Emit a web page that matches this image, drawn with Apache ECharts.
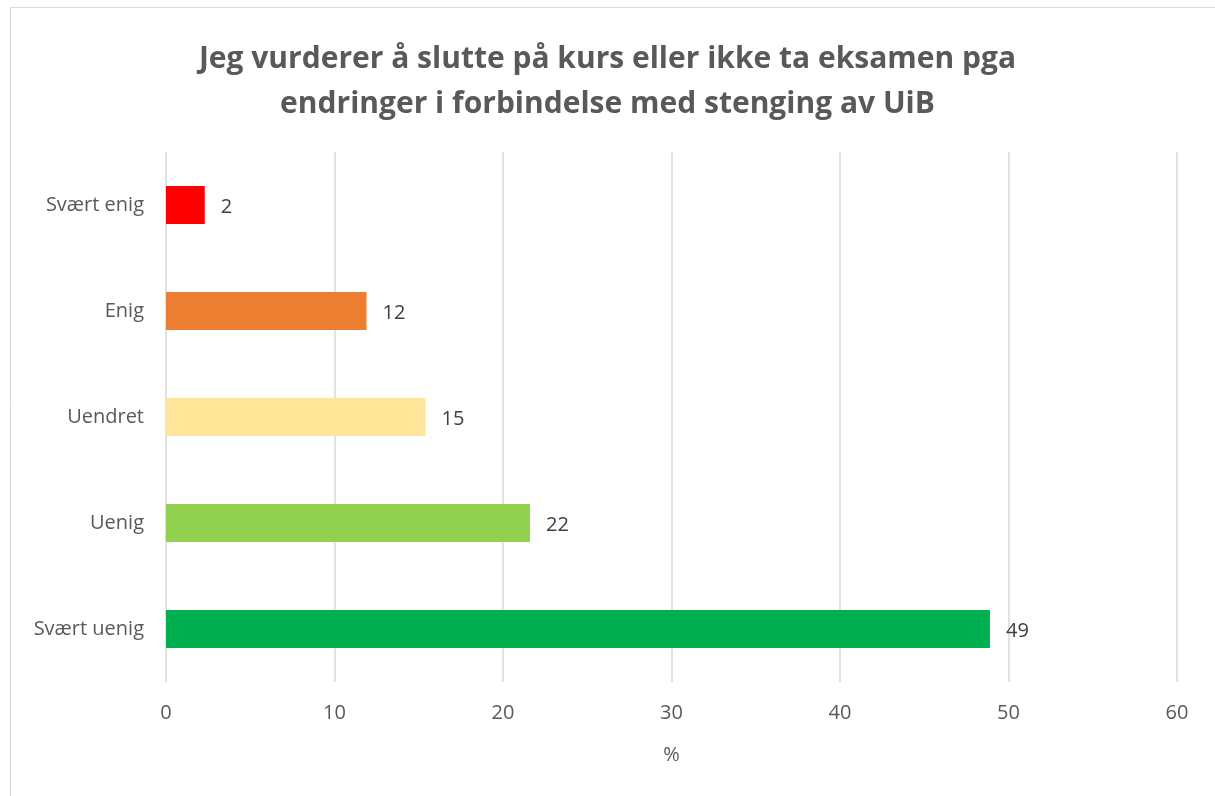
<!DOCTYPE html>
<html>
<head>
<meta charset="utf-8">
<script src="https://cdn.jsdelivr.net/npm/echarts@6/dist/echarts.min.js"></script>
<style>
  html, body { margin: 0; padding: 0; background: #fff; }
  #chart { width: 1215px; height: 796px; }
</style>
</head>
<body>
<div id="chart"></div>
<script>
const categories = ['Svært enig', 'Enig', 'Uendret', 'Uenig', 'Svært uenig'];
const values = [2.3, 11.9, 15.4, 21.6, 48.9];
const barColors = ['#ff0000', '#ed7d31', '#ffe699', '#92d050', '#00b050'];
const xTicks = [0, 60, 10];

const chart = echarts.init(document.getElementById('chart'));
chart.setOption({
  animation: false,
  graphic: [{
    type: 'rect',
    shape: { x: 10.5, y: 7.5, width: 1230, height: 820 },
    style: { fill: 'none', stroke: '#d9d9d9', lineWidth: 1 }
  }],
  title: {
    text: 'Jeg vurderer å slutte på kurs eller ikke ta eksamen pga\nendringer i forbindelse med stenging av UiB',
    left: 'center',
    top: 32,
    textStyle: {
      fontFamily: 'Open Sans',
      fontWeight: 'bold',
      fontSize: 30,
      color: '#595959',
      lineHeight: 45
    }
  },
  grid: { left: 166, right: 38, top: 152, bottom: 114 },
  xAxis: {
    type: 'value',
    min: xTicks[0],
    max: xTicks[1],
    interval: xTicks[2],
    name: '%',
    nameLocation: 'middle',
    nameGap: 63,
    nameTextStyle: { fontFamily: 'Open Sans', fontSize: 20, color: '#595959' },
    axisLine: { show: false },
    axisTick: { show: false },
    axisLabel: { fontFamily: 'Open Sans', fontSize: 20, color: '#595959', margin: 21 },
    splitLine: { lineStyle: { color: '#d9d9d9', width: 1.5 } }
  },
  yAxis: {
    type: 'category',
    data: categories,
    inverse: true,
    axisLine: { show: false },
    axisTick: { show: false },
    axisLabel: { fontFamily: 'Open Sans', fontSize: 20, color: '#595959', margin: 22 }
  },
  series: [{
    type: 'bar',
    barWidth: 38,
    data: values.map((v, i) => ({ value: v, itemStyle: { color: barColors[i] } })),
    label: {
      show: true,
      position: 'right',
      distance: 16,
      offset: [0, 2],
      fontFamily: 'Open Sans',
      fontSize: 20,
      color: '#404040',
      formatter: p => Math.round(p.value)
    }
  }]
});
</script>
</body>
</html>
